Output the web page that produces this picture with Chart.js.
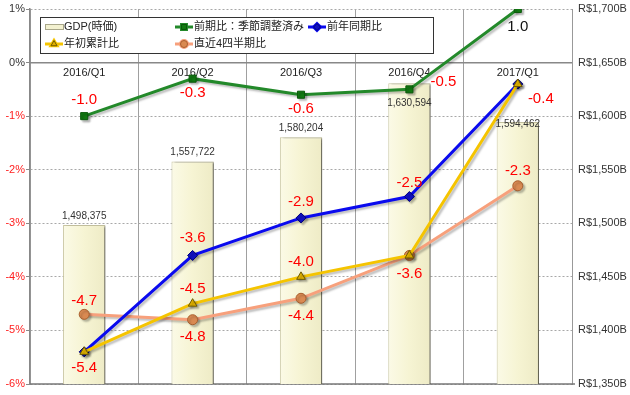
<!DOCTYPE html>
<html>
<head>
<meta charset="utf-8">
<script src="https://cdn.jsdelivr.net/npm/chart.js@4.4.1/dist/chart.umd.min.js"></script>
<style>
  html, body { margin: 0; padding: 0; background: #fff; }
  #wrap { width: 630px; height: 395px; position: relative; }
</style>
</head>
<body>
<div id="wrap"><canvas id="gdpChart"></canvas></div>
<script>
// Data
var quarters = ['2016/Q1', '2016/Q2', '2016/Q3', '2016/Q4', '2017/Q1'];
var gdpNominal = [1498.375, 1557.722, 1580.204, 1630.594, 1594.462]; // R$ billions
var gdpLabels = ['1,498,375', '1,557,722', '1,580,204', '1,630,594', '1,594,462'];
var qoqSA = [-1.0, -0.3, -0.6, -0.5, 1.0];
var yoy = [-5.4, -3.6, -2.9, -2.5, -0.4];
var ytd = [-5.4, -4.5, -4.0, -3.6, -0.4];
var last4q = [-4.7, -4.8, -4.4, -3.6, -2.3];

var FONT = "'Liberation Sans', Arial, 'Noto Sans CJK JP', sans-serif";

// where each value label sits relative to its point (dx, dy); null = not shown
var labelOffsets = [
    [[0, -16], [0, 14], [0, 14], [34, -7], [0, 18]],   // qoq
    [[0, 16], [0, -18], [0, -16], [0, -14], [23, 15]], // yoy
    [null, [0, -15], [0, -15], [0, 18], null],         // ytd
    [[0, -13], [0, 17], [0, 18], null, [0, -15]]       // last 4q
];

// Shadows behind bars and lines
var shadowPlugin = {
    id: 'shadows',
    beforeDatasetDraw: function(chart, args) {
        var ctx = chart.ctx;
        ctx.save();
        if (args.index === 0) {
            ctx.shadowColor = 'rgba(0,0,0,0.55)';
            ctx.shadowOffsetX = 3;
            ctx.shadowOffsetY = 1;
            ctx.shadowBlur = 2;
        } else {
            ctx.shadowColor = 'rgba(0,0,0,0.25)';
            ctx.shadowOffsetX = 2;
            ctx.shadowOffsetY = 2;
            ctx.shadowBlur = 2;
        }
    },
    afterDatasetDraw: function(chart) {
        chart.ctx.restore();
    }
};

// Bottom frame line
var framePlugin = {
    id: 'frame',
    beforeDatasetsDraw: function(chart) {
        var ctx = chart.ctx, a = chart.chartArea;
        ctx.save();
        ctx.strokeStyle = '#777';
        ctx.lineWidth = 1.5;
        ctx.beginPath();
        ctx.moveTo(a.left, a.bottom);
        ctx.lineTo(a.right + 3, a.bottom);
        ctx.stroke();
        ctx.restore();
    }
};

// Value labels for bars and lines
var valueLabelPlugin = {
    id: 'valueLabels',
    afterDatasetsDraw: function(chart) {
        var ctx = chart.ctx;
        ctx.save();
        ctx.textAlign = 'center';
        ctx.textBaseline = 'middle';

        // bar labels
        var barMeta = chart.getDatasetMeta(0);
        ctx.font = '10px ' + FONT;
        ctx.fillStyle = '#333';
        var barDy = [-9, -9, -9, 20, 2];
        barMeta.data.forEach(function(bar, i) {
            ctx.fillText(gdpLabels[i], bar.x, bar.y + barDy[i]);
        });

        // line labels
        ctx.font = '15px ' + FONT;
        for (var d = 1; d <= 4; d++) {
            var meta = chart.getDatasetMeta(d);
            var values = chart.data.datasets[d].data;
            meta.data.forEach(function(pt, i) {
                var off = labelOffsets[d - 1][i];
                if (!off) return;
                var isBlack = (d === 1 && values[i] > 0);
                ctx.fillStyle = isBlack ? '#111' : '#ff0000';
                ctx.fillText(values[i].toFixed(1), pt.x + off[0], pt.y + off[1]);
            });
        }
        ctx.restore();
    }
};

// Legend drawn in a box over the top-left of the plot
var legendPlugin = {
    id: 'boxLegend',
    afterDraw: function(chart) {
        var ctx = chart.ctx;
        var box = { x: 40, y: 17, w: 393, h: 36 };
        var slots = [[45, 27], [175, 27], [308, 27], [45, 44], [175, 44]];
        ctx.save();
        ctx.fillStyle = '#fff';
        ctx.fillRect(box.x, box.y, box.w, box.h);
        ctx.strokeStyle = '#333';
        ctx.lineWidth = 1;
        ctx.strokeRect(box.x + 0.5, box.y + 0.5, box.w, box.h);
        ctx.font = '11px ' + FONT;
        ctx.textBaseline = 'middle';
        ctx.textAlign = 'left';

        chart.data.datasets.forEach(function(ds, i) {
            var sx = slots[i][0], sy = slots[i][1];
            if (i === 0) {
                ctx.fillStyle = '#f3f1d0';
                ctx.strokeStyle = '#a9a78a';
                ctx.fillRect(sx, sy - 2.5, 18, 5);
                ctx.strokeRect(sx + 0.5, sy - 2.5, 18, 5);
            } else {
                ctx.strokeStyle = ds.borderColor;
                ctx.lineWidth = 3;
                ctx.beginPath();
                ctx.moveTo(sx, sy);
                ctx.lineTo(sx + 18, sy);
                ctx.stroke();
                Chart.helpers.drawPoint(ctx, {
                    pointStyle: ds.pointStyle,
                    radius: 3.5,
                    borderWidth: 1
                }, sx + 9, sy);
                ctx.fillStyle = ds.pointBackgroundColor;
                ctx.strokeStyle = ds.pointBorderColor;
                ctx.lineWidth = 1;
                ctx.fill();
                ctx.stroke();
            }
            ctx.fillStyle = '#222';
            ctx.fillText(ds.label, sx + 19, sy);
        });
        ctx.restore();
    }
};

function barFill(context) {
    var chart = context.chart;
    if (!chart.chartArea) return '#f5f3d2';
    var x = chart.scales.x.getPixelForValue(context.dataIndex);
    var g = chart.ctx.createLinearGradient(x - 21, 0, x + 21, 0);
    g.addColorStop(0, '#fbfae6');
    g.addColorStop(0.5, '#f6f4d3');
    g.addColorStop(1, '#eeebc6');
    return g;
}

var ctx = document.getElementById('gdpChart');
var gdpChart = new Chart(ctx, {
    type: 'bar',
    data: {
        labels: quarters,
        datasets: [{
            type: 'bar',
            label: 'GDP(時価)',
            data: gdpNominal,
            yAxisID: 'y2',
            backgroundColor: barFill,
            borderColor: '#c9c6a2',
            borderWidth: 1,
            barPercentage: 0.39,
            categoryPercentage: 1,
            order: 10
        }, {
            type: 'line',
            label: '前期比：季節調整済み',
            data: qoqSA,
            yAxisID: 'y',
            borderColor: '#23892a',
            borderWidth: 3,
            pointStyle: 'rect',
            pointRadius: 5,
            pointBackgroundColor: '#127a12',
            pointBorderColor: '#0a5a0a',
            pointBorderWidth: 1,
            tension: 0,
            order: 1
        }, {
            type: 'line',
            label: '前年同期比',
            data: yoy,
            yAxisID: 'y',
            borderColor: '#0a0aee',
            borderWidth: 3,
            pointStyle: 'rectRot',
            pointRadius: 5,
            pointBackgroundColor: '#1010c0',
            pointBorderColor: '#00007a',
            pointBorderWidth: 1,
            tension: 0,
            order: 3
        }, {
            type: 'line',
            label: '年初累計比',
            data: ytd,
            yAxisID: 'y',
            borderColor: '#f5c400',
            borderWidth: 3,
            pointStyle: 'triangle',
            pointRadius: 5,
            pointBackgroundColor: '#e0b000',
            pointBorderColor: '#6d5a00',
            pointBorderWidth: 1,
            tension: 0,
            order: 2
        }, {
            type: 'line',
            label: '直近4四半期比',
            data: last4q,
            yAxisID: 'y',
            borderColor: '#f7a07c',
            borderWidth: 3,
            pointStyle: 'circle',
            pointRadius: 5,
            pointBackgroundColor: '#d98a52',
            pointBorderColor: '#a9602f',
            pointBorderWidth: 1,
            tension: 0,
            order: 4
        }]
    },
    options: {
        responsive: true,
        maintainAspectRatio: false,
        animation: false,
        layout: { padding: { top: 9, bottom: 11, left: 0, right: 0 } },
        plugins: {
            legend: { display: false },
            tooltip: { enabled: false }
        },
        scales: {
            x: {
                position: { y: 0 },
                offset: true,
                grid: { color: '#a0a0a0', lineWidth: 1, offset: true, drawTicks: false },
                border: { display: true, color: '#888', width: 1.5 },
                ticks: {
                    padding: 4,
                    color: '#222',
                    font: { family: FONT, size: 11 }
                }
            },
            y: {
                position: 'left',
                min: -6,
                max: 1,
                afterFit: function(scale) { scale.width = 30; },
                grid: {
                    color: '#a8a8a8',
                    tickColor: '#888',
                    tickLength: 4,
                    tickBorderDash: [],
                    lineWidth: 1
                },
                border: { display: true, color: '#888', width: 1.5, dash: [2, 2] },
                ticks: {
                    stepSize: 1,
                    padding: 1,
                    color: function(c) { return c.tick.value < 0 ? '#ff2020' : '#333'; },
                    font: { family: FONT, size: 11 },
                    callback: function(v) { return v + '%'; }
                }
            },
            y2: {
                position: 'right',
                min: 1350,
                max: 1700,
                afterFit: function(scale) { scale.width = 58; },
                grid: { display: false, drawOnChartArea: false, tickColor: '#888', tickLength: 4 },
                border: { display: true, color: '#999', width: 1 },
                ticks: {
                    stepSize: 50,
                    padding: 2,
                    color: '#333',
                    font: { family: FONT, size: 11 },
                    callback: function(v) { return 'R$' + v.toLocaleString('en-US') + 'B'; }
                }
            }
        }
    },
    plugins: [shadowPlugin, framePlugin, valueLabelPlugin, legendPlugin]
});
</script>
</body>
</html>
